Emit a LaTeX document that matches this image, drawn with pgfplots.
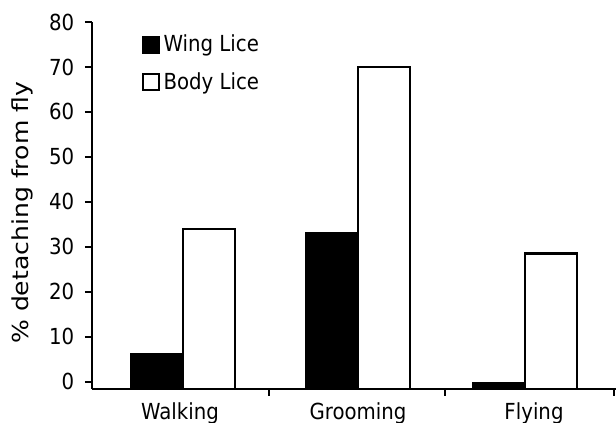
\documentclass[border=0pt]{standalone}
\usepackage{pgfplots}
\pgfplotsset{compat=1.18}
\usepackage{fontspec}
\setmainfont{DejaVu Sans}
\begin{document}
\begin{tikzpicture}
\begin{axis}[
  name=ax,
  scale only axis,
  width=393.75pt, height=275.25pt,
  xmin=92, xmax=617,
  ymin=-1.6, ymax=80,
  y coord trafo/.code={\pgfmathparse{#1+1.6}},
  y coord inv trafo/.code={\pgfmathparse{#1-1.6}},
  axis x line=bottom, axis y line=left,
  axis line style={line width=2.1pt, -},
  tick align=outside,
  major tick length=5.25pt,
  tick style={line width=1.6pt, black},
  ytick={0,10,20,30,40,50,60,70,80},
  yticklabels={0,10,20,30,40,50,60,70,80},
  xtick={269,445,614},
  xticklabels={},
  extra x ticks={180,358,534},
  extra x tick labels={Walking,Grooming,Flying},
  extra x tick style={tick style={draw=none}},
  xticklabel style={yshift=-1pt},
  yticklabel style={xshift=-4.5pt},
  /pgf/number format/assume math mode=true,
  tick label style={font=\fontsize{14.8}{17}\selectfont, yscale=1.12},
  ylabel={\scalebox{1.14}[1]{\% detaching from fly}},
  ylabel style={at={(axis description cs:-0.1035,0.48)}, anchor=south, font=\fontsize{16.5}{19}\selectfont},
  legend image code/.code={\draw[#1, line width=1.5pt] (0pt,-6pt) rectangle (12pt,6pt);},
  legend style={at={(axis description cs:0.0952,0.974)}, anchor=north west, draw=none, fill=none, inner sep=0pt, row sep=9pt, font=\fontsize{14.8}{17}\selectfont, nodes={inner sep=2.5pt}},
  legend cell align=left,
]
\addplot[ybar, bar width=52, bar shift=-26, fill=black, draw=black, line width=2pt] coordinates {(183,6) (358,33) (525,-0.3)};
\addlegendentry{\scalebox{1}[1.12]{Wing Lice}}
\addplot[ybar, bar width=52, bar shift=26, fill=white, draw=black, line width=2pt] coordinates {(183,34) (358,70) (525,28.5)};
\addlegendentry{\scalebox{1}[1.12]{Body Lice}}
\end{axis}
\pgfresetboundingbox
\useasboundingbox ([shift={(-69pt,-25.5pt)}]ax.south west) rectangle ([shift={(393pt,291.75pt)}]ax.south west);
\end{tikzpicture}
\end{document}
